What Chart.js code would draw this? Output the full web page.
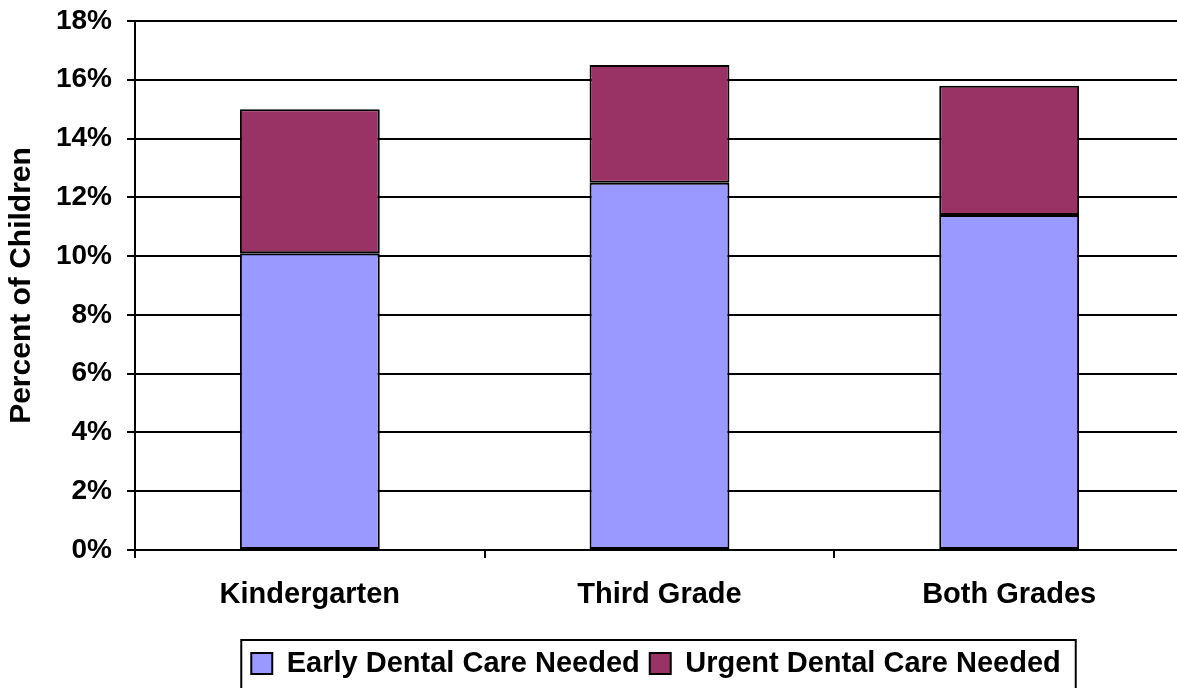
<!DOCTYPE html>
<html>
<head>
<meta charset="utf-8">
<script src="https://cdn.jsdelivr.net/npm/chart.js@4/dist/chart.umd.min.js"></script>
<style>
  html, body { margin: 0; padding: 0; background: #fff; overflow: hidden; }
  #wrap { width: 1177px; height: 688px; overflow: hidden; }
  #c { display: block; }
</style>
</head>
<body>
<div id="wrap"><canvas id="c" width="1184" height="688"></canvas></div>
<script>
const categories = ['Kindergarten', 'Third Grade', 'Both Grades'];
const earlyCare = [10.1, 12.5, 11.4];
const urgentCare = [4.9, 4.0, 4.4];
const seriesNames = ['Early Dental Care Needed', 'Urgent Dental Care Needed'];
const yTicks = [0, 2, 4, 6, 8, 10, 12, 14, 16, 18];

const FONT = '"Liberation Sans", Arial, sans-serif';
const LEGEND_SHIFT_X = 64;

// desplaza la leyenda y le dibuja el marco
const legendBorder = {
  id: 'legendBorder',
  afterLayout(chart) {
    chart.legend.left += LEGEND_SHIFT_X;
    chart.legend.right += LEGEND_SHIFT_X;
  },
  afterDraw(chart) {
    const boxes = chart.legend && chart.legend.legendHitBoxes;
    if (!boxes || !boxes.length) return;
    const left = Math.min(...boxes.map(b => b.left)) - 10;
    const right = Math.max(...boxes.map(b => b.left + b.width)) + 15;
    const top = Math.min(...boxes.map(b => b.top)) - 9;
    const ctx = chart.ctx;
    ctx.save();
    ctx.strokeStyle = '#000';
    ctx.lineWidth = 2;
    ctx.strokeRect(left, top, right - left, chart.height + 10 - top);
    ctx.restore();
  }
};

new Chart(document.getElementById('c'), {
  type: 'bar',
  data: {
    labels: categories,
    datasets: [
      { label: seriesNames[0], data: earlyCare, backgroundColor: '#9999FF', borderColor: '#000', borderWidth: 2, borderSkipped: false },
      { label: seriesNames[1], data: urgentCare, backgroundColor: '#993366', borderColor: '#000', borderWidth: 2, borderSkipped: false }
    ]
  },
  options: {
    responsive: false,
    animation: false,
    layout: { padding: { top: 21, left: 0, right: 0, bottom: 0 } },
    datasets: { bar: { barPercentage: 0.4, categoryPercentage: 1.0 } },
    plugins: {
      tooltip: { enabled: false },
      legend: {
        position: 'bottom',
        labels: {
          color: '#000',
          font: { family: FONT, size: 29, weight: 'bold' },
          boxWidth: 21,
          boxHeight: 21,
          padding: 10
        }
      }
    },
    scales: {
      x: {
        stacked: true,
        grid: { display: true, drawOnChartArea: false, drawTicks: true, tickLength: 8, color: '#000', lineWidth: 2, offset: true },
        border: { color: '#000', width: 2 },
        ticks: { color: '#000', font: { family: FONT, size: 29, weight: 'bold' }, padding: 20 },
        afterFit(scale) {
          scale.height = 89;
          scale.paddingLeft = 0;
          scale.paddingRight = 0;
        }
      },
      y: {
        stacked: true,
        min: 0,
        max: 18,
        afterBuildTicks(scale) { scale.ticks = yTicks.map(v => ({ value: v })); },
        grid: { color: '#000', lineWidth: 2, tickLength: 8 },
        border: { color: '#000', width: 2 },
        ticks: {
          color: '#000',
          font: { family: FONT, size: 28, weight: 'bold' },
          padding: 15,
          callback: v => v + '%'
        },
        title: {
          display: true,
          text: 'Percent of Children',
          color: '#000',
          font: { family: FONT, size: 30, weight: 'bold' },
          padding: { top: 4, bottom: 0 }
        },
        afterFit(scale) {
          scale.width = 135;
          scale.paddingTop = 0;
          scale.paddingBottom = 0;
        }
      }
    }
  },
  plugins: [legendBorder]
});
</script>
</body>
</html>
